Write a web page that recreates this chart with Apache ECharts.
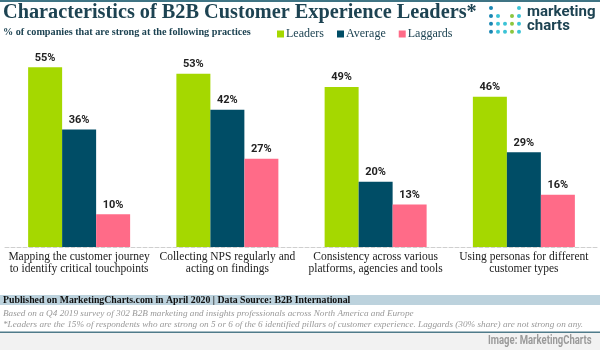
<!DOCTYPE html>
<html>
<head>
<meta charset="utf-8">
<script src="https://cdn.jsdelivr.net/npm/echarts@6/dist/echarts.min.js"></script>
<style>
  html, body { margin: 0; padding: 0; background: #fff; }
  #chart { width: 600px; height: 350px; }
</style>
</head>
<body>
<div id="chart"></div>
<script>
const categories = [
  "Mapping the customer journey\nto identify critical touchpoints",
  "Collecting NPS regularly and\nacting on findings",
  "Consistency across various\nplatforms, agencies and tools",
  "Using personas for different\ncustomer types"
];
const leaders = [55, 53, 49, 46];
const average = [36, 42, 20, 29];
const laggards = [10, 27, 13, 16];

const serif = '"Liberation Serif", "DejaVu Serif", serif';
const dark = "#1d4352";

// logo dots: [col, row, color]
const logoDots = [
  [0, 0, "#1a86b3"], [4, 0, "#3cc3d6"],
  [0, 1, "#1a86b3"], [1, 1, "#3cc3d6"], [3, 1, "#8cc63f"], [4, 1, "#3cc3d6"],
  [0, 2, "#1a86b3"], [1, 2, "#3cc3d6"], [2, 2, "#3cc3d6"], [3, 2, "#8cc63f"], [4, 2, "#3cc3d6"],
  [0, 3, "#1a86b3"], [1, 3, "#3cc3d6"], [2, 3, "#3cc3d6"], [3, 3, "#8cc63f"], [4, 3, "#3cc3d6"]
];

const myChart = echarts.init(document.getElementById("chart"));

const labelStyle = {
  show: true,
  position: "top",
  distance: 4,
  formatter: "{c}%",
  color: "#222",
  fontFamily: "Roboto",
  fontWeight: "bold",
  fontSize: 11
};

const makeSeries = (name, data, color) => ({
  name,
  type: "bar",
  data,
  barWidth: 34,
  barGap: "0%",
  itemStyle: { color },
  label: labelStyle,
  animation: false
});

const graphics = [
  // top border
  { type: "rect", left: 0, top: 0, shape: { width: 600, height: 2 }, style: { fill: "#3f7484" } },
  {
    type: "text", left: 3, top: 3,
    style: { text: "Characteristics of B2B Customer Experience Leaders*", font: "bold 20.3px " + serif, fill: dark }
  },
  {
    type: "text", left: 3, top: 27,
    style: { text: "% of companies that are strong at the following practices", font: "bold 10.2px " + serif, fill: dark }
  },
  {
    type: "text", left: 527, top: 5,
    style: { text: "marketing\ncharts", font: "bold 15px Roboto", fill: dark, lineHeight: 14 }
  },
  // footer band
  { type: "rect", left: 0, top: 295, shape: { width: 600, height: 10 }, style: { fill: "#bcd2dd" } },
  {
    type: "text", left: 3, top: 295,
    style: { text: "Published on MarketingCharts.com in April 2020 | Data Source: B2B International", font: "bold 9.8px " + serif, fill: "#111" }
  },
  {
    type: "text", left: 3, top: 309,
    style: { text: "Based on a Q4 2019 survey of 302 B2B marketing and insights professionals across North America and Europe", font: "italic 9.2px " + serif, fill: "#999" }
  },
  {
    type: "text", left: 3, top: 320.5,
    style: { text: "*Leaders are the 15% of respondents who are strong on 5 or 6 of the 6 identified pillars of customer experience. Laggards (30% share) are not strong on any.", font: "italic 9.2px " + serif, fill: "#999" }
  },
  { type: "rect", left: 0, top: 333, shape: { width: 600, height: 17 }, style: { fill: "#f2f2f2" } },
  { type: "rect", left: 0, top: 331.5, shape: { width: 600, height: 1.5 }, style: { fill: "#4f7b8a" } },
  {
    type: "text", x: 488, y: 334, scaleX: 0.76,
    style: { text: "Image: MarketingCharts", font: "bold 12.5px Roboto", fill: "#9a9a9a" }
  }
];

logoDots.forEach(([c, r, color]) => {
  graphics.push({
    type: "circle",
    shape: { cx: 491 + c * 7, cy: 8 + r * 7.9, r: 2 },
    style: { fill: color }
  });
});

const option = {
  backgroundColor: "#fff",
  animation: false,
  grid: { left: 5, right: 2, top: 51, bottom: 103, containLabel: false },
  legend: {
    left: 277,
    top: 28,
    padding: 0,
    itemWidth: 7,
    itemHeight: 7,
    itemGap: 13,
    icon: "rect",
    textStyle: { fontFamily: serif, fontSize: 12, color: dark, padding: [0, 0, 0, -3] },
    data: ["Leaders", "Average", "Laggards"]
  },
  xAxis: {
    type: "category",
    data: categories,
    axisLine: { show: true, lineStyle: { color: "#cfcfcf", type: "dashed", width: 1 } },
    axisTick: { show: false },
    axisLabel: {
      interval: 0,
      margin: 4,
      color: "#222",
      fontFamily: serif,
      fontSize: 11.5,
      lineHeight: 12
    }
  },
  yAxis: {
    type: "value",
    min: 0,
    max: 60,
    show: false,
    splitLine: { show: false }
  },
  series: [
    makeSeries("Leaders", leaders, "#a5d800"),
    makeSeries("Average", average, "#004d66"),
    makeSeries("Laggards", laggards, "#ff6b88")
  ],
  graphic: graphics
};

myChart.setOption(option);
</script>
</body>
</html>
